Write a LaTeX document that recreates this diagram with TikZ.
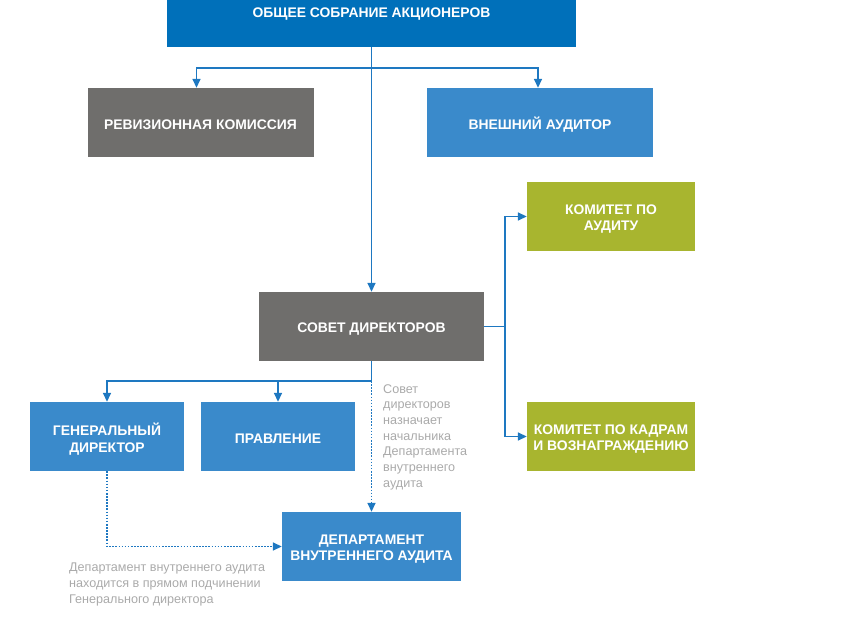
\documentclass[tikz,border=0pt]{standalone}
\usepackage{fontspec}
\setmainfont{Liberation Sans}
\usetikzlibrary{arrows.meta}
\definecolor{topblue}{RGB}{0,112,186}
\definecolor{boxgray}{RGB}{111,110,108}
\definecolor{boxblue}{RGB}{58,138,203}
\definecolor{boxgreen}{RGB}{168,181,47}
\definecolor{linkblue}{RGB}{30,120,193}
\definecolor{notegray}{RGB}{170,170,170}
\begin{document}
\begin{tikzpicture}[x=1pt,y=-1pt,
  shape box/.style={inner sep=0pt, minimum height=69pt},
  boxtext/.style={inner sep=0pt, text=white, align=center, font=\bfseries\fontsize{13.9}{16.8}\selectfont},
  note/.style={inner sep=0pt, text=notegray, align=left, anchor=north west, font=\fontsize{12.6}{15.7}\selectfont},
  link/.style={draw=linkblue, line width=1.6pt},
  arr/.style={link, -{Triangle[length=9pt,width=8pt]}},
  dots/.style={dash pattern=on 1.6pt off 1.5pt}]
\useasboundingbox (0,0) rectangle (848,636);
\node[shape box, fill=topblue, minimum width=409pt, minimum height=47pt] (gsm) at (371.5,23.5) {};
\node[boxtext] (gsmt) at (371.5,14) {ОБЩЕЕ СОБРАНИЕ АКЦИОНЕРОВ};
\node[shape box, fill=boxgray, minimum width=226pt] (rev) at (200.5,122.5) {};
\node[shape box, fill=boxblue, minimum width=226pt] (ext) at (540,122.5) {};
\node[shape box, fill=boxgreen, minimum width=168pt] (kaud) at (611,216.5) {};
\node[shape box, fill=boxgray, minimum width=225pt] (sd) at (371.5,326.5) {};
\node[shape box, fill=boxblue, minimum width=154pt] (gd) at (107,436.5) {};
\node[shape box, fill=boxblue, minimum width=154pt] (pr) at (278,436.5) {};
\node[shape box, fill=boxgreen, minimum width=168pt] (kkad) at (611,436.5) {};
\node[shape box, fill=boxblue, minimum width=179pt] (dva) at (371.5,546.5) {};
\node[boxtext] (revt) at ([yshift=-2.5pt]rev.center) {РЕВИЗИОННАЯ КОМИССИЯ};
\node[boxtext] (extt) at ([yshift=-2.5pt]ext.center) {ВНЕШНИЙ АУДИТОР};
\node[boxtext] (kaudt) at ([yshift=-2.5pt]kaud.center) {КОМИТЕТ ПО\\АУДИТУ};
\node[boxtext] (sdt) at ([yshift=-2.5pt]sd.center) {СОВЕТ ДИРЕКТОРОВ};
\node[boxtext] (gdt) at ([yshift=-2.5pt]gd.center) {ГЕНЕРАЛЬНЫЙ\\ДИРЕКТОР};
\node[boxtext] (prt) at ([yshift=-2.5pt]pr.center) {ПРАВЛЕНИЕ};
\node[boxtext] (kkadt) at ([yshift=-2.5pt]kkad.center) {КОМИТЕТ ПО КАДРАМ\\И ВОЗНАГРАЖДЕНИЮ};
\node[boxtext] (dvat) at ([yshift=-2.5pt]dva.center) {ДЕПАРТАМЕНТ\\ВНУТРЕННЕГО АУДИТА};
\coordinate (j1) at (371.5,68);
\coordinate (j2) at (505,326.5);
\coordinate (j3) at (371.5,381);
\draw[arr] (gsm.south) -- (sd.north);
\draw[arr] (j1) -| ([xshift=-4pt]rev.north);
\draw[arr] (j1) -| ([xshift=-2pt]ext.north);
\draw[link] (sd.east) -- (j2);
\draw[arr] (j2) |- (kaud.west);
\draw[arr] (j2) |- (kkad.west);
\draw[link] (sd.south) -- (j3);
\draw[arr] (j3) -| (gd.north);
\draw[arr] (j3) -| (pr.north);
\draw[arr, dots] (j3) -- (dva.north);
\draw[arr, dots] (gd.south) |- (dva.west);
\node[note] (n1) at (383,384) {Совет\\директоров\\назначает\\начальника\\Департамента\\внутреннего\\аудита};
\node[note] (n2) at (69,563) {Департамент внутреннего аудита\\находится в прямом подчинении\\Генерального директора};
\end{tikzpicture}
\end{document}
